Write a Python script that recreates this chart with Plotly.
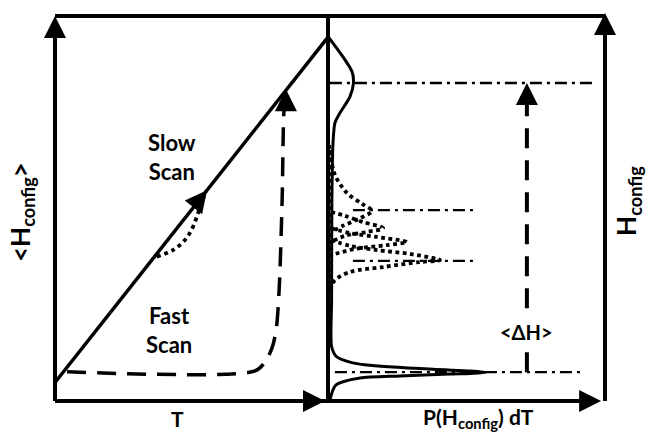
import plotly.graph_objects as go

# ---- figure geometry (pixels) ----
W, H_FIG = 650, 437
M_L, M_R, M_T, M_B = 55, 45, 16, 36
PLOT_W = W - M_L - M_R          # 550
PLOT_H = H_FIG - M_T - M_B      # 385
LEFT_W = 273                    # width of the <H>-vs-T panel
SPLIT = LEFT_W / PLOT_W         # paper x of the shared middle axis
RIGHT_W = PLOT_W - LEFT_W

# ---- left panel: <H_config> versus temperature ----
slow_t = [0.0, 1.0]
slow_h = [0.048, 0.945]

slow_detour_t = [0.3725, 0.432, 0.476, 0.505, 0.524, 0.538, 0.553]
slow_detour_h = [0.375, 0.392, 0.418, 0.452, 0.488, 0.517, 0.545]

fast_t = [0.044, 0.733, 0.769, 0.795, 0.810, 0.821, 0.832, 0.839, 0.846]
fast_h = [0.076, 0.078, 0.101, 0.138, 0.184, 0.288, 0.522, 0.756, 0.790]

slow_arrow_t = [0.557]
fast_arrow_t = [0.846]
fast_arrow_h = [0.810]

# ---- right panel: P(H_config) dT ----
# slow-scan distribution (solid): broad high-H peak, sharp low-H peak
slow_dist_p = [0.001, 0.054, 0.087, 0.092, 0.079, 0.043, 0.025, 0.018, 0.014,
               0.013, 0.013, 0.031, 0.079, 0.140, 0.379, 0.513, 0.573,
               0.513, 0.440, 0.260, 0.116, 0.054, 0.029, 0.018, 0.007]
slow_dist_h = [0.946, 0.894, 0.855, 0.826, 0.790, 0.748, 0.722, 0.670, 0.522,
               0.262, 0.141, 0.115, 0.101, 0.0935, 0.0823, 0.078, 0.0745,
               0.0714, 0.070, 0.065, 0.060, 0.050, 0.0416, 0.029, 0.003]

# fast-scan distributions (dotted)
fast_peaks_p = [
    [0.007, 0.025, 0.069, 0.123, 0.159, 0.116, 0.054, 0.011],
    [0.011, 0.061, 0.126, 0.199, 0.141, 0.061, 0.011],
    [0.011, 0.079, 0.177, 0.285, 0.213, 0.097, 0.011],
    [0.011, 0.079, 0.177, 0.296, 0.404, 0.332, 0.199, 0.079, 0.025, 0.011],
]
fast_peaks_h = [
    [0.652, 0.587, 0.540, 0.512, 0.494, 0.475, 0.455, 0.439],
    [0.491, 0.481, 0.465, 0.449, 0.439, 0.429, 0.413],
    [0.449, 0.436, 0.426, 0.413, 0.405, 0.395, 0.379],
    [0.418, 0.403, 0.392, 0.382, 0.366, 0.361, 0.348, 0.335, 0.314, 0.294],
]
fast_tail_p = [0.004, 0.004]
fast_tail_h = [0.665, 0.275]

# reference levels (dash-dot)
level_h = [0.826, 0.496, 0.364, 0.075]
level_p0 = [0.007, 0.090, 0.090, 0.025]
level_p1 = [0.957, 0.531, 0.531, 0.917]

# mean enthalpy difference arrow
dh_p = 0.718
dh_h = [0.075, 0.826]
dh_label_h = 0.179

FONT = "Lato"
BLACK = "#000000"

fig = go.Figure()

# left panel curves
fig.add_trace(go.Scatter(x=slow_t, y=slow_h, mode="lines",
                         line=dict(color=BLACK, width=3.5),
                         xaxis="x", yaxis="y"))
fig.add_trace(go.Scatter(x=slow_detour_t, y=slow_detour_h, mode="lines",
                         line=dict(color=BLACK, width=3.8, dash="3.8px,4px",
                                   shape="spline", smoothing=1.0),
                         xaxis="x", yaxis="y"))
fig.add_trace(go.Scatter(x=fast_t, y=fast_h, mode="lines",
                         line=dict(color=BLACK, width=3.5, dash="19px,11px",
                                   shape="spline", smoothing=0.8),
                         xaxis="x", yaxis="y"))

# right panel distributions
fig.add_trace(go.Scatter(x=slow_dist_p, y=slow_dist_h, mode="lines",
                         line=dict(color=BLACK, width=3, shape="spline",
                                   smoothing=0.7),
                         xaxis="x2", yaxis="y"))
for pp, hh in zip(fast_peaks_p, fast_peaks_h):
    fig.add_trace(go.Scatter(x=pp, y=hh, mode="lines",
                             line=dict(color=BLACK, width=3.8, dash="3.8px,3.5px",
                                       shape="spline", smoothing=0.9),
                             xaxis="x2", yaxis="y"))
fig.add_trace(go.Scatter(x=fast_tail_p, y=fast_tail_h, mode="lines",
                         line=dict(color=BLACK, width=3.8, dash="3.8px,3px"),
                         xaxis="x2", yaxis="y"))

for h, p0, p1 in zip(level_h, level_p0, level_p1):
    fig.add_trace(go.Scatter(x=[p0, p1], y=[h, h], mode="lines",
                             line=dict(color=BLACK, width=2.3,
                                       dash="12px,5px,3px,5px"),
                             xaxis="x2", yaxis="y"))

fig.add_trace(go.Scatter(x=[dh_p, dh_p], y=[dh_h[0], dh_h[1] - 0.03], mode="lines",
                         line=dict(color=BLACK, width=4, dash="20px,12px"),
                         xaxis="x2", yaxis="y"))

# ---- frame lines ----
frame = dict(type="line", xref="paper", yref="paper",
             line=dict(color=BLACK, width=4), layer="above")
shapes = [
    dict(frame, x0=0, x1=1, y0=1, y1=1),
    dict(frame, x0=0, x1=0, y0=0, y1=0.97),
    dict(frame, x0=SPLIT, x1=SPLIT, y0=0, y1=1),
    dict(frame, x0=0, x1=0.98, y0=0, y1=0),
    dict(frame, x0=1, x1=1, y0=0, y1=0.97),
]

# ---- arrow heads ----
HEAD = 22
ann = []


def head(x, y, xref, yref, ax, ay):
    ann.append(dict(x=x, y=y, xref=xref, yref=yref, ax=ax, ay=ay,
                    text="", showarrow=True, arrowhead=2, arrowsize=1.1,
                    arrowwidth=4, arrowcolor=BLACK, standoff=0))


head(0, 1.0, "paper", "paper", 0, HEAD)                       # <H> axis
head(1, 1.008, "paper", "paper", 0, HEAD)                     # H axis
head(0.989 * SPLIT, 0, "paper", "paper", -HEAD, 0)           # T axis
head(SPLIT + 0.986 * (1 - SPLIT), 0, "paper", "paper", -HEAD, 0)  # P axis

# arrows along the slow-scan diagonal and the end of the fast scan
dx_px = (slow_t[1] - slow_t[0]) * LEFT_W
dy_px = (slow_h[1] - slow_h[0]) * PLOT_H
norm = (dx_px ** 2 + dy_px ** 2) ** 0.5
ux, uy = dx_px / norm, dy_px / norm
slope = (slow_h[1] - slow_h[0]) / (slow_t[1] - slow_t[0])
for t in slow_arrow_t:
    head(t, slow_h[0] + slope * t, "x", "y", -ux * HEAD, uy * HEAD)
head(fast_arrow_t[0], fast_arrow_h[0], "x", "y", 0, HEAD)
head(dh_p, dh_h[1], "x2", "y", 0, HEAD)

# ---- text ----
def label(text, x, y, xref, yref, size, angle=0, bg=None):
    d = dict(text=text, x=x, y=y, xref=xref, yref=yref, showarrow=False,
             textangle=angle, xanchor="center", yanchor="middle",
             font=dict(family=FONT, size=size, color=BLACK))
    if bg:
        d["bgcolor"] = bg
    ann.append(d)


BOTTOM_Y = -0.045
label("<b>Slow<br>Scan</b>", 0.429, 0.634, "x", "y", 22)
label("<b>Fast<br>Scan</b>", 0.418, 0.184, "x", "y", 22)
label("<b>&lt;ΔH&gt;</b>", dh_p, dh_label_h, "x2", "y", 20, bg="white")
label("<b>T</b>", 0.45, BOTTOM_Y, "x", "paper", 21)
label("<b>P(H<sub>config</sub>) dT</b>", 0.545, BOTTOM_Y, "x2", "paper", 21)
label("<b>&lt;H<sub>config</sub>&gt;</b>", -0.06, 0.491, "paper", "paper", 26, angle=-90)
label("<b>H<sub>config</sub></b>", 1.042, 0.52, "paper", "paper", 26, angle=-90)

axis_off = dict(range=[0, 1], showgrid=False, zeroline=False, showline=False,
                showticklabels=False, ticks="", fixedrange=True)
fig.update_layout(
    width=W, height=H_FIG,
    margin=dict(l=M_L, r=M_R, t=M_T, b=M_B, pad=0),
    paper_bgcolor="white", plot_bgcolor="white",
    showlegend=False,
    xaxis=dict(axis_off, domain=[0, SPLIT]),
    xaxis2=dict(axis_off, domain=[SPLIT, 1], anchor="y"),
    yaxis=dict(axis_off),
    shapes=shapes,
    annotations=ann,
)

fig.write_html("out.html")
